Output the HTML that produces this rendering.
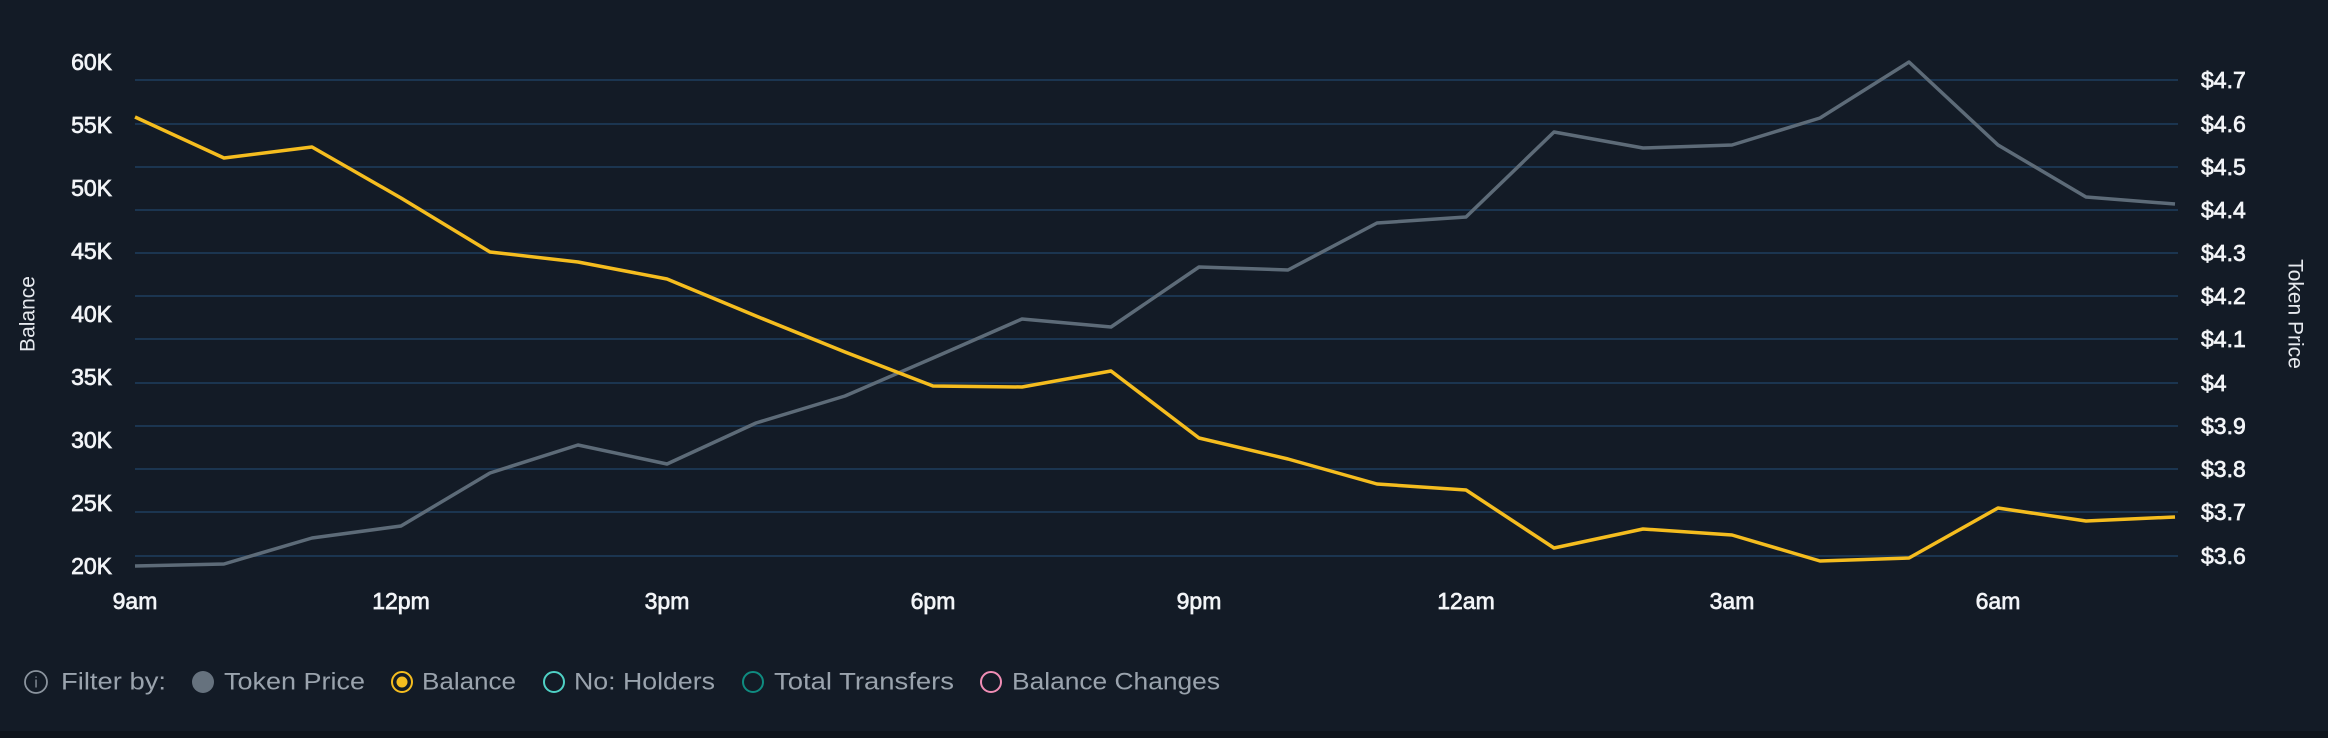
<!DOCTYPE html>
<html><head><meta charset="utf-8"><style>
html,body{margin:0;padding:0;background:#131b26;}
body{width:2328px;height:738px;overflow:hidden;position:relative;font-family:"Liberation Sans",sans-serif;}
</style></head><body>
<svg width="2328" height="738" xmlns="http://www.w3.org/2000/svg" style="position:absolute;left:0;top:0">
<rect x="0" y="0" width="2328" height="738" fill="#131b26"/>
<rect x="0" y="731" width="2328" height="7" fill="#0e141c"/>
<g stroke="#1b3550" stroke-width="2">
<line x1="135" x2="2178" y1="80" y2="80"/><line x1="135" x2="2178" y1="124" y2="124"/>
<line x1="135" x2="2178" y1="167" y2="167"/><line x1="135" x2="2178" y1="210" y2="210"/>
<line x1="135" x2="2178" y1="253" y2="253"/><line x1="135" x2="2178" y1="296" y2="296"/>
<line x1="135" x2="2178" y1="339" y2="339"/><line x1="135" x2="2178" y1="383" y2="383"/>
<line x1="135" x2="2178" y1="426" y2="426"/><line x1="135" x2="2178" y1="469" y2="469"/>
<line x1="135" x2="2178" y1="512" y2="512"/><line x1="135" x2="2178" y1="556" y2="556"/>
</g>
<g fill="#f2f4f7" stroke="#f2f4f7" stroke-width="0.7" font-size="23" text-anchor="end" dominant-baseline="central">
<text x="112" y="62">60K</text><text x="112" y="125">55K</text><text x="112" y="188">50K</text>
<text x="112" y="251">45K</text><text x="112" y="314">40K</text><text x="112" y="377">35K</text>
<text x="112" y="440">30K</text><text x="112" y="503">25K</text><text x="112" y="566">20K</text>
</g>
<g fill="#f2f4f7" stroke="#f2f4f7" stroke-width="0.7" font-size="23" dominant-baseline="central">
<text x="2201" y="80">$4.7</text><text x="2201" y="124">$4.6</text><text x="2201" y="167">$4.5</text>
<text x="2201" y="210">$4.4</text><text x="2201" y="253">$4.3</text><text x="2201" y="296">$4.2</text>
<text x="2201" y="339">$4.1</text><text x="2201" y="383">$4</text><text x="2201" y="426">$3.9</text>
<text x="2201" y="469">$3.8</text><text x="2201" y="512">$3.7</text><text x="2201" y="556">$3.6</text>
</g>
<g fill="#f2f4f7" stroke="#f2f4f7" stroke-width="0.7" font-size="23" text-anchor="middle" dominant-baseline="central">
<text x="135" y="601">9am</text><text x="401" y="601">12pm</text><text x="667" y="601">3pm</text>
<text x="933" y="601">6pm</text><text x="1199" y="601">9pm</text><text x="1466" y="601">12am</text>
<text x="1732" y="601">3am</text><text x="1998" y="601">6am</text>
</g>
<text transform="translate(28,314) rotate(-90)" fill="#e6e9ee" font-size="21" text-anchor="middle" dominant-baseline="central">Balance</text>
<text transform="translate(2295,314) rotate(90)" fill="#e6e9ee" font-size="21" text-anchor="middle" dominant-baseline="central">Token Price</text>
<polyline fill="none" stroke="#5d6b78" stroke-width="3.5" stroke-linejoin="round" points="135,566 224,564 312,538 401,526 490,473 578,445 667,464 756,423 845,396 933,358 1022,319 1111,327 1199,267 1288,270 1377,223 1466,217 1554,132 1643,148 1732,145 1820,118 1909,62 1998,145 2086,197 2175,204"/>
<polyline fill="none" stroke="#f5bd1f" stroke-width="3.5" stroke-linejoin="round" points="135,117 224,158 312,147 401,198 490,252 578,262 667,279 756,316 845,352 933,386 1022,387 1111,371 1199,438 1288,459 1377,484 1466,490 1554,548 1643,529 1732,535 1820,561 1909,558 1998,508 2086,521 2175,517"/>
<g font-size="24" fill="#9aa3ad" dominant-baseline="central">
<circle cx="36" cy="682" r="11" fill="none" stroke="#8b949e" stroke-width="1.8"/>
<text x="36" y="683" font-size="15" text-anchor="middle" fill="#8b949e">i</text>
<text x="61" y="682" textLength="105" lengthAdjust="spacingAndGlyphs">Filter by:</text>
<circle cx="203" cy="682" r="11" fill="#66727e"/>
<text x="224" y="682" textLength="141" lengthAdjust="spacingAndGlyphs">Token Price</text>
<circle cx="402" cy="682" r="10" fill="none" stroke="#f5bd1f" stroke-width="2"/>
<circle cx="402" cy="682" r="5.5" fill="#f5bd1f"/>
<text x="422" y="682" textLength="94" lengthAdjust="spacingAndGlyphs">Balance</text>
<circle cx="554" cy="682" r="10" fill="none" stroke="#4fd1c5" stroke-width="2"/>
<text x="574" y="682" textLength="141" lengthAdjust="spacingAndGlyphs">No: Holders</text>
<circle cx="753" cy="682" r="10" fill="none" stroke="#0f8b80" stroke-width="2"/>
<text x="774" y="682" textLength="180" lengthAdjust="spacingAndGlyphs">Total Transfers</text>
<circle cx="991" cy="682" r="10" fill="none" stroke="#f08db5" stroke-width="2"/>
<text x="1012" y="682" textLength="208" lengthAdjust="spacingAndGlyphs">Balance Changes</text>
</g>
</svg>
</body></html>
